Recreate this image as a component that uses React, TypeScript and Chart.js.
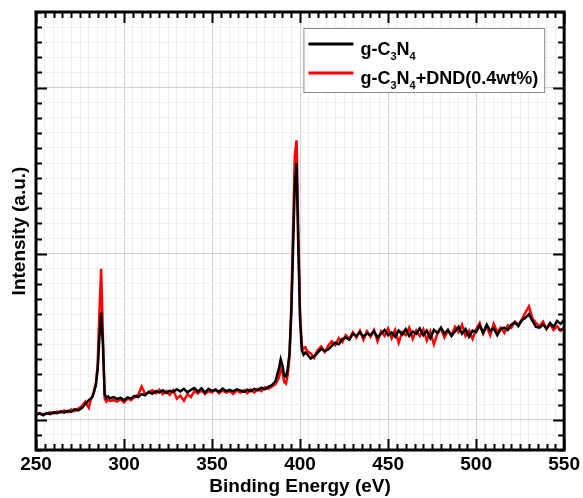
import React, { useEffect, useRef } from "react";
import { Chart, registerables } from "chart.js";

Chart.register(...registerables);

// Binding energy (eV) sample positions
const energies = [
  250, 252, 254, 256, 258, 260, 262, 264, 266, 268, 270, 272, 274, 276, 278, 280,
  281, 282, 283, 284, 285, 286, 287, 288, 289, 290, 291, 292,
  294, 296, 298, 300, 302, 304, 306, 308, 310, 312, 314, 316, 318, 320, 322, 324, 326, 328, 330, 332,
  334, 336, 338, 340, 342, 344, 346, 348, 350, 352, 354, 356, 358, 360, 362, 364, 366, 368, 370, 372,
  374, 376, 378, 380, 382, 384, 386, 388,
  389, 390, 391, 392, 393, 394, 395, 396, 397, 398, 399, 400, 401, 402, 403, 404,
  406, 408, 410, 412, 414, 416, 418, 420, 422, 424, 426, 428, 430, 432, 434, 436, 438, 440, 442, 444,
  446, 448, 450, 452, 454, 456, 458, 460, 462, 464, 466, 468, 470, 472, 474, 476, 478, 480, 482, 484,
  486, 488, 490, 492, 494, 496, 498, 500, 502, 504, 506, 508, 510, 512, 514, 516, 518, 520, 522, 524,
  526, 528, 530, 532, 534, 536, 538, 540, 542, 544, 546, 548, 550,
];

// g-C3N4 (black)
const gC3N4 = [
  2.35, 2.42, 2.3, 2.45, 2.38, 2.5, 2.44, 2.56, 2.48, 2.6, 2.52, 2.7, 2.62, 2.78, 3.05, 3.3,
  3.4, 3.52, 3.85, 4.3, 5.3, 7.4, 9.1, 7.0, 3.7, 3.45, 3.55, 3.42,
  3.5, 3.38, 3.45, 3.3, 3.48, 3.42, 3.58, 3.5, 3.7, 3.62, 3.85, 3.72, 3.9, 3.8, 3.95, 3.78, 3.92, 3.85, 4.02, 3.88,
  4.05, 3.82, 3.98, 4.1, 3.86, 4.08, 3.8, 4.05, 3.92, 3.98, 3.86, 4.06, 3.9, 3.98, 3.88, 4.02, 3.95, 3.85, 4.0, 3.88,
  4.05, 3.95, 4.12, 4.02, 4.18, 4.3, 4.55, 5.4,
  6.0, 5.6, 4.9, 4.85, 5.4, 6.4, 9.0, 13.2, 17.6, 19.0, 13.4, 8.6, 6.6, 6.3, 6.45, 6.35,
  6.05, 6.2, 6.45, 6.7, 6.55, 6.65, 6.9, 7.1, 7.0, 7.35, 7.45, 7.3, 7.7, 7.55, 7.8, 7.5, 7.72, 7.6, 7.85, 7.45,
  7.7, 7.95, 7.6, 7.78, 7.5, 7.9, 7.65, 8.0, 7.55, 7.85, 7.7, 8.05, 7.6, 7.9, 7.4, 7.95, 7.75, 8.1, 7.7, 7.95,
  7.55, 7.85, 8.15, 7.7, 8.0, 7.5, 7.9, 7.8, 8.25, 7.75, 8.3, 7.9, 8.05, 7.6, 8.0, 8.1, 7.95, 8.3, 8.45, 8.2,
  8.6, 8.75, 9.0, 8.55, 8.15, 8.1, 8.3, 8.05, 8.4, 8.15, 8.55, 8.35, 8.6,
];

// g-C3N4+DND(0.4wt%) (red)
const gC3N4DND = [
  2.3, 2.45, 2.35, 2.4, 2.5, 2.42, 2.55, 2.48, 2.62, 2.5, 2.68, 2.58, 2.75, 2.9, 3.2, 2.8,
  3.3, 3.5, 3.95, 4.4, 5.6, 9.0, 12.0, 7.6, 3.4, 3.2, 3.35, 3.25,
  3.3, 3.2, 3.35, 3.15, 3.4, 3.3, 3.5, 3.65, 4.2, 3.7, 3.8, 3.95, 3.75, 4.0, 3.7, 3.9, 3.65, 3.95, 3.4, 3.6,
  3.25, 3.7, 3.5, 3.9, 3.75, 3.95, 3.7, 3.9, 3.8, 4.0, 3.75, 3.95, 3.8, 3.9, 3.7, 3.95, 3.8, 3.95, 3.75, 4.0,
  3.8, 4.05, 3.9, 4.15, 4.05, 4.2, 4.35, 4.8,
  5.4, 5.1, 4.5, 4.4, 5.0, 6.2, 9.5, 14.5, 19.5, 20.5, 14.5, 9.0, 6.9, 6.7, 6.8, 6.55,
  6.4, 6.1, 6.6, 6.85, 6.5, 6.9, 7.2, 6.95, 7.4, 7.15, 7.6, 7.35, 7.8, 7.45, 7.9, 7.3, 7.85, 7.5, 7.95, 7.2,
  7.85, 7.55, 8.05, 7.4, 7.95, 7.1, 7.8, 7.6, 8.1, 7.35, 7.9, 7.55, 8.0, 7.25, 7.85, 7.0, 7.7, 8.05, 7.45, 7.9,
  7.6, 8.15, 7.8, 8.3, 7.55, 7.9, 7.35, 8.0, 8.4, 7.7, 8.2, 7.6, 8.35, 7.8, 8.1, 7.75, 8.25, 8.1, 8.5, 8.3,
  8.65, 9.1, 9.5, 8.7, 8.4, 8.2, 8.5, 8.0, 8.35, 7.95, 8.2, 7.9, 8.1,
];

const seriesLabels = ["g-C_3N_4", "g-C_3N_4+DND(0.4wt%)"];
const seriesColors = ["#000000", "#ff0000"];

const xMin = 250;
const xMax = 550;
const xMinorStep = 5;
const xMajorStep = 50;
const yMin = 0;
const yMax = 29;
const yMajorTicks = [2, 13, 24];

const FONT = "'Liberation Sans', Arial, sans-serif";

function isXMajor(v: number) {
  return Math.abs(v % xMajorStep) < 1e-6;
}
function isYMajor(v: number) {
  return yMajorTicks.some((m) => Math.abs(m - v) < 1e-6);
}

function drawRich(ctx: CanvasRenderingContext2D, text: string, x: number, baseline: number, size: number) {
  // "_n" marks a one-character subscript
  let cx = x;
  let i = 0;
  while (i < text.length) {
    if (text[i] === "_" && i + 1 < text.length) {
      ctx.font = `bold ${Math.round(size * 0.62)}px ${FONT}`;
      ctx.fillText(text[i + 1], cx, baseline + size * 0.28);
      cx += ctx.measureText(text[i + 1]).width;
      i += 2;
    } else {
      let j = i;
      while (j < text.length && text[j] !== "_") j++;
      const seg = text.slice(i, j);
      ctx.font = `bold ${size}px ${FONT}`;
      ctx.fillText(seg, cx, baseline);
      cx += ctx.measureText(seg).width;
      i = j;
    }
  }
  return cx - x;
}

function measureRich(ctx: CanvasRenderingContext2D, text: string, size: number) {
  let w = 0;
  let i = 0;
  while (i < text.length) {
    if (text[i] === "_" && i + 1 < text.length) {
      ctx.font = `bold ${Math.round(size * 0.62)}px ${FONT}`;
      w += ctx.measureText(text[i + 1]).width;
      i += 2;
    } else {
      let j = i;
      while (j < text.length && text[j] !== "_") j++;
      ctx.font = `bold ${size}px ${FONT}`;
      w += ctx.measureText(text.slice(i, j)).width;
      i = j;
    }
  }
  return w;
}

const framePlugin = {
  id: "frameTicksLegend",
  afterDraw(chart: any) {
    const { ctx, chartArea: a, scales } = chart;
    const xs = scales.x;
    const ys = scales.y;
    ctx.save();
    ctx.strokeStyle = "#000";
    ctx.lineWidth = 2;
    ctx.beginPath();
    xs.ticks.forEach((t: any) => {
      const px = Math.round(xs.getPixelForValue(t.value)) + 0.5;
      const len = isXMajor(t.value) ? 11 : 6;
      ctx.moveTo(px, a.bottom);
      ctx.lineTo(px, a.bottom - len);
      ctx.moveTo(px, a.top);
      ctx.lineTo(px, a.top + len);
    });
    ys.ticks.forEach((t: any) => {
      const py = Math.round(ys.getPixelForValue(t.value)) + 0.5;
      const len = isYMajor(t.value) ? 11 : 6;
      ctx.moveTo(a.left, py);
      ctx.lineTo(a.left + len, py);
      ctx.moveTo(a.right, py);
      ctx.lineTo(a.right - len, py);
    });
    ctx.stroke();
    ctx.lineWidth = 3;
    ctx.strokeRect(a.left, a.top, a.right - a.left, a.bottom - a.top);

    // legend
    const size = 18;
    const textW = Math.max(...seriesLabels.map((l) => measureRich(ctx, l, size)));
    const lineLen = 45;
    const boxW = 5 + lineLen + 7 + textW + 6;
    const boxH = 64;
    const boxR = a.right - 20;
    const boxL = boxR - boxW;
    const boxT = a.top + 16;
    ctx.fillStyle = "#ffffff";
    ctx.fillRect(boxL, boxT, boxW, boxH);
    ctx.strokeStyle = "#8a8a8a";
    ctx.lineWidth = 1;
    ctx.strokeRect(boxL + 0.5, boxT + 0.5, boxW, boxH);
    seriesLabels.forEach((lab, i) => {
      const mid = boxT + 20 + i * 29;
      ctx.strokeStyle = seriesColors[i];
      ctx.lineWidth = 3;
      ctx.beginPath();
      ctx.moveTo(boxL + 5, mid - 4);
      ctx.lineTo(boxL + 5 + lineLen, mid - 4);
      ctx.stroke();
      ctx.fillStyle = "#000";
      ctx.textBaseline = "alphabetic";
      ctx.textAlign = "left";
      drawRich(ctx, lab, boxL + 5 + lineLen + 7, mid + 6.5, size);
    });
    ctx.restore();
  },
};

export default function App() {
  const ref = useRef<HTMLCanvasElement | null>(null);
  useEffect(() => {
    document.body.style.margin = "0";
    const canvas = ref.current;
    if (!canvas) return;
    const chart = new Chart(canvas, {
      type: "line",
      data: {
        datasets: [
          {
            label: "g-C3N4",
            data: energies.map((e, i) => ({ x: e, y: gC3N4[i] })),
            borderColor: seriesColors[0],
            borderWidth: 2.5,
            pointRadius: 0,
            tension: 0,
            fill: false,
          },
          {
            label: "g-C3N4+DND(0.4wt%)",
            data: energies.map((e, i) => ({ x: e, y: gC3N4DND[i] })),
            borderColor: seriesColors[1],
            borderWidth: 2.5,
            pointRadius: 0,
            tension: 0,
            fill: false,
          },
        ],
      },
      options: {
        responsive: false,
        animation: false,
        layout: { padding: { top: 12, right: 17, left: 0, bottom: 0 } },
        plugins: { legend: { display: false }, tooltip: { enabled: false } },
        scales: {
          x: {
            type: "linear",
            min: xMin,
            max: xMax,
            afterFit: (s: any) => {
              s.height = 48;
            },
            border: { display: false },
            grid: {
              drawTicks: false,
              color: (c: any) => (isXMajor(c.tick.value) ? "#d2d2d2" : "#f0f0f0"),
              lineWidth: 1,
            },
            ticks: {
              stepSize: xMinorStep,
              autoSkip: false,
              maxRotation: 0,
              minRotation: 0,
              padding: 3,
              color: "#000",
              font: { family: FONT, size: 19, weight: "bold" },
              callback: (v: any) => (isXMajor(Number(v)) ? String(v) : ""),
            },
            title: {
              display: true,
              text: "Binding Energy (eV)",
              color: "#000",
              font: { family: FONT, size: 19, weight: "bold" },
              padding: { top: 0, bottom: 0 },
            },
          },
          y: {
            type: "linear",
            min: yMin,
            max: yMax,
            afterFit: (s: any) => {
              s.width = 36;
            },
            border: { display: false },
            grid: {
              drawTicks: false,
              color: (c: any) => (isYMajor(c.tick.value) ? "#d2d2d2" : "#f0f0f0"),
              lineWidth: 1,
            },
            ticks: { stepSize: 1, display: false },
            title: {
              display: true,
              text: "Intensity (a.u.)",
              color: "#000",
              font: { family: FONT, size: 19, weight: "bold" },
              padding: { top: 8, bottom: 0 },
            },
          },
        },
      },
      plugins: [framePlugin],
    } as any);
    return () => chart.destroy();
  }, []);
  return <canvas ref={ref} width={583} height={498} style={{ display: "block" }} />;
}
